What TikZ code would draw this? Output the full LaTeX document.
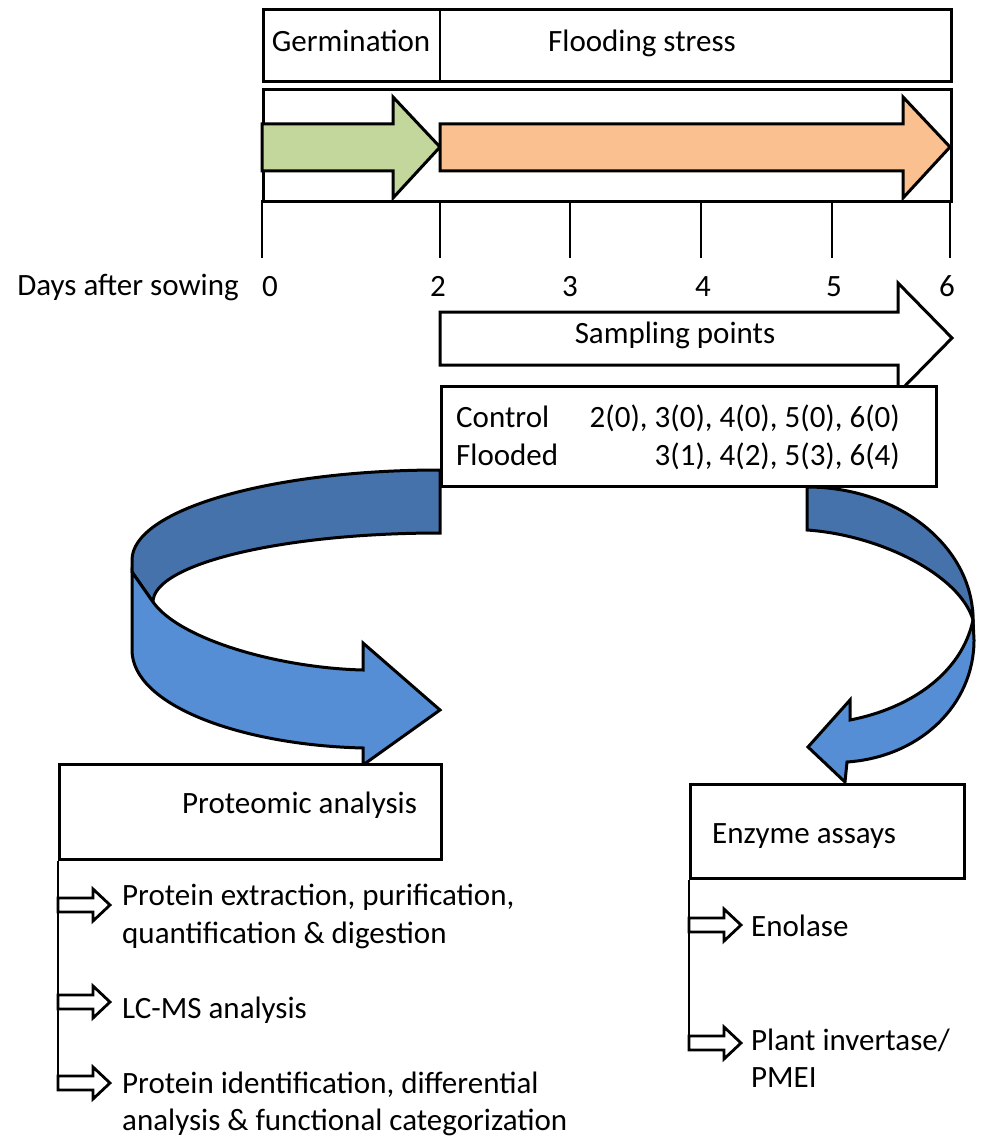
\documentclass[tikz,border=0pt]{standalone}
\usepackage{fontspec}
\setmainfont{Carlito}
\usetikzlibrary{positioning}
\definecolor{germ}{HTML}{C3D69B}
\definecolor{flood}{HTML}{FAC090}
\definecolor{backblue}{HTML}{4672AC}
\definecolor{frontblue}{HTML}{558ED5}
\tikzset{frame/.style={draw,line width=3pt,fill=white,inner sep=0pt,anchor=north west},
  txt/.style={font=\fontsize{31}{38}\selectfont,inner sep=0pt,anchor=base},
  ltxt/.style={txt,anchor=base west},
  rtxt/.style={txt,anchor=base east},
  thin/.style={line width=1.1pt},
  blk/.style={draw,line width=3pt,line join=miter},
  pics/hollowarr/.style={code={\draw[line width=2.8pt,fill=white] (0,-7) -- (35,-7) -- (35,-16) -- (52,0) -- (35,16) -- (35,7) -- (0,7) -- cycle;}}}

\begin{document}
\begin{tikzpicture}[x=1pt,y=-1pt]
\useasboundingbox (0,0) rectangle (982,1139);
% time line
\node[frame,minimum width=688pt,minimum height=72pt](phase) at (262,8){};
\draw[thin](phase.north west)++(178,0)--++(0,72);
\node[txt](germination) at (351,52){Germination};
\node[txt](stress) at (642,52){Flooding stress};
\node[frame,minimum width=688pt,minimum height=112pt](track) at (262,88){};
\filldraw[blk,fill=germ](262,124)--(393,124)--(393,97)--(440,147)--(393,198)--(393,171)--(262,171)--cycle;
\filldraw[blk,fill=flood](440,124)--(903,124)--(903,97)--(950,147)--(903,198)--(903,171)--(440,171)--cycle;
\foreach \x/\lx/\d in {262/270/0,440/438/2,570/570/3,701/703/4,832/834/5,950/947/6}{
  \draw[thin](\x,200)--(\x,258);
  \node[txt](day\d) at (\lx,297){\d};}
\node[txt](days) at (128,295){Days after sowing};
% curved arrows
\filldraw[blk,fill=backblue](440,470)--(440,533) .. controls (282,533) and (153,564) .. (153,602)--(132,572)--(132,560) .. controls (132,510) and (270,470) .. (440,470)--cycle;
\filldraw[blk,fill=frontblue](132,572)--(153,602) .. controls (180,640) and (280,668) .. (363,670)--(363,643)--(440,710)--(363,765)--(363,748) .. controls (240,745) and (132,705) .. (132,650)--cycle;
\filldraw[blk,fill=backblue](807,480)--(807,530) .. controls (880,535) and (960,575) .. (973,620) .. controls (973,547) and (899,487) .. (807,487)--cycle;
\filldraw[blk,fill=frontblue](973,620)--(974,640) .. controls (974,705) and (920,757) .. (847,762)--(845,782)--(808,747)--(850,700)--(850,720) .. controls (912,708) and (962,672) .. (973,620)--cycle;
% sampling
\filldraw[blk,fill=white](440,312)--(898,312)--(898,283)--(952,338)--(898,393)--(898,365)--(440,365)--cycle;
\node[txt](sampling) at (675,343){Sampling points};
\node[frame,minimum width=495pt,minimum height=100pt](samples) at (440,385){};
\node[ltxt](ctrl) at (456,427){Control};
\node[rtxt](ctrlpts) at (900,427){2(0), 3(0), 4(0), 5(0), 6(0)};
\node[ltxt](fld) at (456,465){Flooded};
\node[rtxt](fldpts) at (900,465){3(1), 4(2), 5(3), 6(4)};
% analyses
\node[frame,minimum width=382pt,minimum height=95pt](prot) at (58,763){};
\node[ltxt](protlbl) at (182,813){Proteomic analysis};
\node[frame,minimum width=274pt,minimum height=94pt](enz) at (689,783){};
\node[ltxt](enzlbl) at (712,843){Enzyme assays};
\coordinate(pa1) at (58,905);\coordinate(pa2) at (58,1002);\coordinate(pa3) at (58,1083);
\coordinate(ea1) at (689,925);\coordinate(ea2) at (689,1043);
\draw[thin](prot.south west)--(pa3);
\draw[thin](enz.south west)--(ea2);
\foreach \p in {pa1,pa2,pa3,ea1,ea2}{\pic at (\p){hollowarr};}
\node[ltxt](p1a) at (122,905){Protein extraction, purification,};
\node[ltxt](p1b) at (122,943){quantification \& digestion};
\node[ltxt](p2) at (122,1018){LC-MS analysis};
\node[ltxt](p3a) at (122,1093){Protein identification, differential};
\node[ltxt](p3b) at (122,1130){analysis \& functional categorization};
\node[ltxt](e1) at (751,936){Enolase};
\node[ltxt](e2a) at (751,1050){Plant invertase/};
\node[ltxt](e2b) at (751,1087){PMEI};
\end{tikzpicture}
\end{document}
